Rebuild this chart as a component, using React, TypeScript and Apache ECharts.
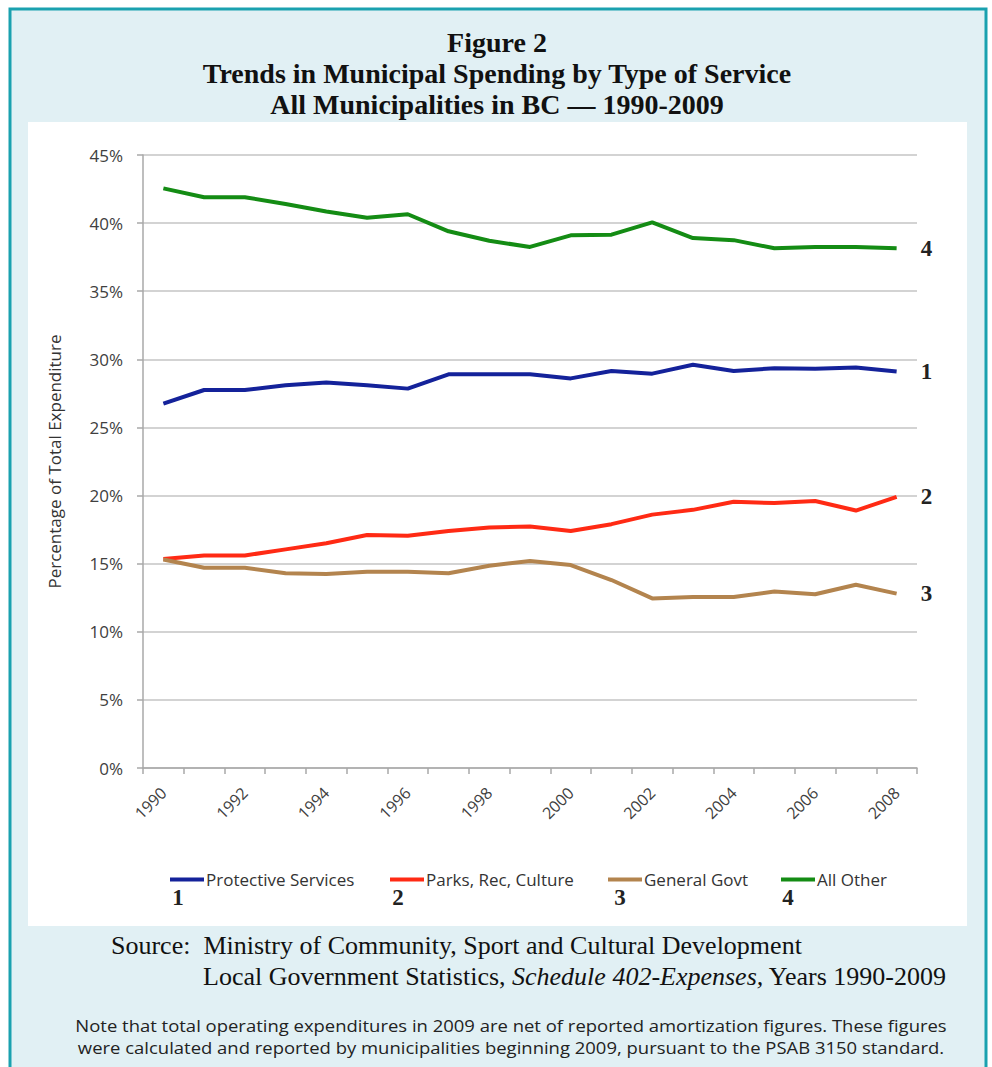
import React, { useEffect, useRef } from "react";
import * as echarts from "echarts";

const years = ["1990","1991","1992","1993","1994","1995","1996","1997","1998","1999","2000","2001","2002","2003","2004","2005","2006","2007","2008"];
const protective = [26.75, 27.75, 27.75, 28.1, 28.3, 28.1, 27.85, 28.9, 28.9, 28.9, 28.6, 29.15, 28.95, 29.6, 29.15, 29.35, 29.3, 29.4, 29.1];
const parks = [15.35, 15.6, 15.6, 16.05, 16.5, 17.1, 17.05, 17.4, 17.65, 17.73, 17.4, 17.9, 18.6, 18.95, 19.55, 19.45, 19.6, 18.9, 19.9];
const generalGovt = [15.3, 14.7, 14.7, 14.3, 14.25, 14.4, 14.4, 14.3, 14.85, 15.2, 14.9, 13.8, 12.45, 12.55, 12.55, 12.95, 12.75, 13.45, 12.8];
const allOther = [42.55, 41.9, 41.9, 41.4, 40.85, 40.4, 40.65, 39.4, 38.7, 38.25, 39.1, 39.15, 40.05, 38.9, 38.75, 38.15, 38.25, 38.25, 38.15];

const seriesNames = ["Protective Services", "Parks, Rec, Culture", "General Govt", "All Other"];
const seriesNumbers = ["1", "2", "3", "4"];
const seriesColors = ["#14229a", "#ff2a14", "#b3844e", "#148c14"];
const seriesData = [protective, parks, generalGovt, allOther];

const titleLines = ["Figure 2", "Trends in Municipal Spending by Type of Service", "All Municipalities in BC \u2014 1990-2009"];
const yAxisName = "Percentage of Total Expenditure";
const noteLines = [
  "Note that total operating expenditures in 2009 are net of reported amortization figures. These figures",
  "were calculated and reported by municipalities beginning 2009, pursuant to the PSAB 3150 standard.",
];

const SERIF = "'Liberation Serif', 'DejaVu Serif', serif";
const SANS = "'Open Sans', 'Noto Sans', sans-serif";

export default function App() {
  const ref = useRef<HTMLDivElement>(null);
  useEffect(() => {
    if (!ref.current) return;
    const chart = echarts.init(ref.current, null, { renderer: "svg" });
    const legendLefts = [165, 385, 603, 776];
    const numberXs = [178, 398, 620, 788];
    const option: any = {
      animation: false,
      backgroundColor: "#ffffff",
      grid: { left: 143, right: 75, top: 155, bottom: 299 },
      legend: seriesNames.map((n, i) => ({
        data: [n],
        left: legendLefts[i],
        top: 866,
        icon: "rect",
        itemWidth: 34,
        itemHeight: 4,
        textStyle: { fontFamily: SANS, fontSize: 17, color: "#333", padding: [0, 0, 0, -3] },
      })),
      xAxis: {
        type: "category",
        data: years,
        boundaryGap: true,
        axisLine: { lineStyle: { color: "#a8a8a8", width: 1.5 } },
        axisTick: { show: true, interval: 0, length: 6, lineStyle: { color: "#a8a8a8", width: 1.5 } },
        axisLabel: { interval: 1, rotate: 45, margin: 22, fontFamily: SANS, fontSize: 16, color: "#404040" },
      },
      yAxis: {
        type: "value",
        min: 0,
        max: 45,
        interval: 5,
        name: yAxisName,
        nameLocation: "middle",
        nameGap: 80,
        nameRotate: 90,
        nameTextStyle: { fontFamily: SANS, fontSize: 17, color: "#333" },
        axisLine: { show: true, lineStyle: { color: "#a8a8a8", width: 1.5 } },
        axisTick: { show: true, length: 6, lineStyle: { color: "#a8a8a8", width: 1.5 } },
        splitLine: { lineStyle: { color: "#c4c4c4", width: 1.5 } },
        axisLabel: { formatter: "{value}%", margin: 20, fontFamily: SANS, fontSize: 17, color: "#404040" },
      },
      series: seriesNames.map((n, i) => ({
        name: n,
        type: "line",
        data: seriesData[i],
        symbol: "none",
        color: seriesColors[i],
        lineStyle: { width: 4, color: seriesColors[i] },
        endLabel: {
          show: true,
          formatter: () => seriesNumbers[i],
          distance: 24,
          fontFamily: SERIF,
          fontWeight: "bold",
          fontSize: 23,
          color: "#222",
        },
      })),
      graphic: [
        { type: "rect", z: -10, silent: true, shape: { x: 0, y: 0, width: 992, height: 1067 }, style: { fill: "#ffffff" } },
        { type: "rect", z: -9, silent: true, shape: { x: 10, y: 9, width: 976, height: 1070 }, style: { fill: "#e1f0f4", stroke: "#1aa1af", lineWidth: 3 } },
        { type: "rect", z: -8, silent: true, shape: { x: 28, y: 122, width: 939, height: 804 }, style: { fill: "#ffffff" } },
        ...titleLines.map((t, i) => ({
          type: "text",
          x: 497,
          y: 42 + i * 31,
          style: { text: t, font: `bold 28px ${SERIF}`, fill: "#111", textAlign: "center", textVerticalAlign: "middle" },
        })),
        ...seriesNumbers.map((t, i) => ({
          type: "text",
          x: numberXs[i],
          y: 897,
          style: { text: t, font: `bold 23px ${SERIF}`, fill: "#222", textAlign: "center", textVerticalAlign: "middle" },
        })),
        {
          type: "text",
          x: 111,
          y: 945,
          style: { text: "Source:  Ministry of Community, Sport and Cultural Development", font: `26px ${SERIF}`, fill: "#111", textVerticalAlign: "middle" },
        },
        {
          type: "text",
          x: 203,
          y: 976,
          style: {
            text: "{a|Local Government Statistics, }{b|Schedule 402-Expenses,}{a| Years 1990-2009}",
            fill: "#111",
            textVerticalAlign: "middle",
            rich: {
              a: { font: `26px ${SERIF}`, fill: "#111" },
              b: { font: `italic 26px ${SERIF}`, fill: "#111" },
            },
          },
        },
        ...noteLines.map((t, i) => ({
          type: "text",
          x: 511,
          y: 1025 + i * 22,
          scaleX: 1.12,
          style: { text: t, font: `16.5px ${SANS}`, fill: "#222", textAlign: "center", textVerticalAlign: "middle" },
        })),
      ],
    };
    chart.setOption(option);
    return () => chart.dispose();
  }, []);
  return <div ref={ref} style={{ position: "absolute", left: 0, top: 0, width: 992, height: 1067 }} />;
}
